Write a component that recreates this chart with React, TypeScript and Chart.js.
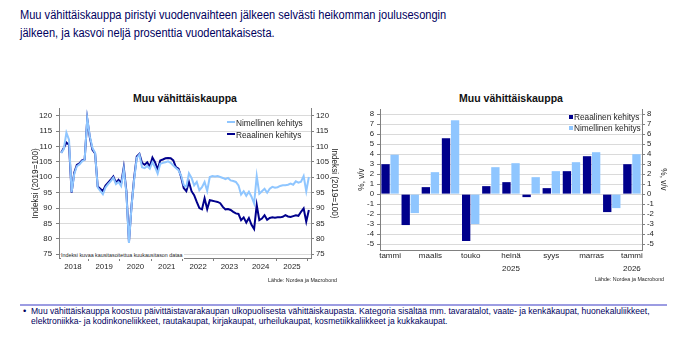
import React, { useEffect, useRef } from "react";
import { Chart, registerables } from "chart.js";

Chart.register(...registerables);

const SANS = "'Liberation Sans', Arial, sans-serif";

const DARK = "#00008C";
const LIGHT = "#8FC6FF";
const NAVY = "#00005E";
const AXIS = "#808080";
const GRID = "#DADADA";
const TEXT = "#1E1E1E";

// ---------- Line chart data (monthly index, 2019=100), Feb 2018 .. Jan 2026 ----------
const lineFirstYear = 2018;
const lineFirstMonth = 2;
const nominalIndex = [
  107.9, 109.2, 114.5, 112.2, 95.2, 101.0, 103.6, 104.2, 105.2, 105.8, 119.1,
  113.3, 109.5, 108.0, 96.7, 95.6, 94.5, 96.7, 97.8, 98.8, 99.9, 97.8, 98.5,
  97.2, 102.6, 95.0, 78.7, 90.8, 99.4, 106.3, 107.4, 103.3, 103.0, 103.7, 102.8,
  104.9, 103.3, 101.2, 104.4, 104.7, 104.9, 105.2, 104.7, 103.8, 103.0, 102.3, 100.6,
  97.5, 96.9, 101.3, 99.8, 97.4, 98.5, 95.8, 96.8, 98.5, 95.6, 100.1, 100.4,
  100.3, 100.4, 100.1, 99.8, 99.4, 99.8, 99.0, 98.8, 98.5, 97.4, 94.4, 95.5,
  94.0, 95.3, 93.7, 91.5, 100.4, 94.7, 95.5, 96.3, 95.0, 96.3, 96.9, 96.6,
  96.8, 97.2, 97.4, 97.4, 97.6, 98.0, 97.6, 98.7, 98.3, 98.6, 100.4, 95.5,
  100.1,
];
const realIndex = [
  108.0, 109.5, 111.3, 110.6, 95.0, 101.5, 104.0, 104.5, 105.5, 105.8, 118.9,
  112.9, 108.9, 107.8, 97.0, 96.3, 95.5, 97.3, 98.3, 99.2, 100.3, 98.3, 99.2,
  98.0, 103.2, 95.5, 79.0, 91.0, 100.0, 106.8, 107.6, 104.7, 104.1, 104.9, 103.5,
  106.4, 104.9, 102.5, 105.5, 105.8, 106.2, 106.3, 106.2, 105.5, 103.3, 102.8, 100.1,
  96.5, 95.5, 98.5, 95.5, 94.2, 92.0, 90.0, 89.6, 93.2, 89.7, 92.6, 92.4,
  92.2, 92.0, 91.6, 90.4, 89.6, 89.7, 89.4, 88.8, 88.3, 88.1, 86.1, 87.0,
  85.3, 86.8, 84.6, 83.2, 91.0, 86.1, 86.6, 87.7, 86.2, 86.8, 87.0, 86.9,
  87.0, 87.0, 87.2, 87.7, 87.3, 87.1, 87.4, 87.7, 87.5, 88.8, 89.9, 85.6,
  89.4,
];
const yearLabels = ["2018", "2019", "2020", "2021", "2022", "2023", "2024", "2025"];
const indexTicks = [75, 80, 85, 90, 95, 100, 105, 110, 115, 120];

// ---------- Bar chart data (% y/y), Jan 2025 .. Jan 2026 ----------
const barMonths = ["tammi", "helmi", "maalis", "huhti", "touko", "kesä", "heinä", "elo", "syys", "loka", "marras", "joulu", "tammi"];
const barYears = ["", "", "", "", "", "", "2025", "", "", "", "", "", "2026"];
const realYoY = [3.0, -3.1, 0.7, 5.6, -4.7, 0.8, 1.2, -0.3, 0.6, 2.3, 3.8, -1.8, 3.0];
const nominalYoY = [3.95, -1.9, 2.2, 7.4, -3.0, 2.7, 3.1, 1.7, 2.3, 3.2, 4.2, -1.4, 4.0];
const pctTicks = [-5, -4, -3, -2, -1, 0, 1, 2, 3, 4, 5, 6, 7, 8];

const monthPos = (i: number) => {
  const m = lineFirstMonth - 1 + i;
  return lineFirstYear + Math.floor(m / 12) + ((m % 12) + 0.5) / 12;
};

const tickFont = { family: SANS, size: 7.8 };
const titleFont = { family: SANS, size: 8.2 };

function LineChart() {
  const ref = useRef<HTMLCanvasElement>(null);
  useEffect(() => {
    const xTicks: { value: number }[] = [];
    yearLabels.forEach((y) => {
      const yr = Number(y);
      if (yr > lineFirstYear) xTicks.push({ value: yr });
      xTicks.push({ value: yr + 0.5 });
    });
    xTicks.push({ value: Number(yearLabels[yearLabels.length - 1]) + 1 });
    const yAxis = (pos: "left" | "right", width: number, pad: number, titlePad: number) => ({
      position: pos,
      min: 73.8,
      max: 122.3,
      afterBuildTicks: (s: any) => { s.ticks = indexTicks.map((v) => ({ value: v })); },
      afterFit: (s: any) => { s.width = width; },
      grid: { display: true, drawOnChartArea: pos === "left", color: GRID, tickColor: AXIS, tickLength: 3 },
      border: { display: true, color: AXIS },
      ticks: { font: tickFont, color: TEXT, padding: pad, autoSkip: false },
      title: { display: true, text: "Indeksi (2019=100)", font: titleFont, color: TEXT, padding: { top: titlePad, bottom: 0 } },
    });
    const chart = new Chart(ref.current!, {
      type: "line",
      data: {
        datasets: [
          { label: "Nimellinen kehitys", data: nominalIndex.map((v, i) => ({ x: monthPos(i), y: v })), borderColor: LIGHT, borderWidth: 2, pointRadius: 0, tension: 0 },
          { label: "Reaalinen kehitys", data: realIndex.map((v, i) => ({ x: monthPos(i), y: v })), borderColor: DARK, borderWidth: 2, pointRadius: 0, tension: 0 },
        ],
      },
      options: {
        animation: false,
        responsive: false,
        layout: { padding: { top: 8, left: 0, right: 0, bottom: 0 } },
        plugins: { legend: { display: false }, tooltip: { enabled: false } },
        scales: {
          x: {
            type: "linear",
            min: 2018.055,
            max: 2026.11,
            afterBuildTicks: (s: any) => { s.ticks = xTicks.map((t) => ({ ...t })); },
            afterFit: (s: any) => { s.height = 27; },
            grid: {
              display: true,
              drawOnChartArea: false,
              tickLength: 3,
              tickColor: (ctx: any) => (ctx.tick && Number.isInteger(ctx.tick.value) ? AXIS : "rgba(0,0,0,0)"),
            },
            border: { display: true, color: AXIS },
            ticks: {
              autoSkip: false,
              maxRotation: 0,
              font: tickFont,
              color: TEXT,
              padding: 1,
              callback: (v: any) => (Number.isInteger(v) ? "" : String(Math.floor(v))),
            },
          },
          y: yAxis("left", 39, 4, 11.1),
          y1: yAxis("right", 34, 2, 6.1),
        },
      } as any,
    });
    return () => chart.destroy();
  }, []);
  return <canvas ref={ref} width={325} height={185} style={{ position: "absolute", left: 20, top: 100, width: 325, height: 185 }} />;
}

function BarChart() {
  const ref = useRef<HTMLCanvasElement>(null);
  useEffect(() => {
    const yAxis = (pos: "left" | "right", width: number, pad: number, titlePad: number) => ({
      position: pos,
      min: -5.6,
      max: 8.53,
      afterBuildTicks: (s: any) => { s.ticks = pctTicks.map((v) => ({ value: v })); },
      afterFit: (s: any) => { s.width = width; },
      grid: { display: true, drawOnChartArea: pos === "left", color: GRID, tickColor: AXIS, tickLength: 3 },
      border: { display: true, color: AXIS },
      ticks: { font: tickFont, color: TEXT, padding: pad, autoSkip: false },
      title: { display: true, text: "%, v/v", font: titleFont, color: TEXT, padding: { top: titlePad, bottom: 0 } },
    });
    const chart = new Chart(ref.current!, {
      type: "bar",
      data: {
        labels: barMonths.map((m, i) => (barYears[i] ? [m, barYears[i]] : m)),
        datasets: [
          { label: "Reaalinen kehitys", data: realYoY, backgroundColor: DARK, categoryPercentage: 0.9, barPercentage: 0.92 },
          { label: "Nimellinen kehitys", data: nominalYoY, backgroundColor: LIGHT, categoryPercentage: 0.9, barPercentage: 0.92 },
        ],
      },
      options: {
        animation: false,
        responsive: false,
        layout: { padding: { top: 9, left: 0, right: 0, bottom: 0 } },
        plugins: { legend: { display: false }, tooltip: { enabled: false } },
        scales: {
          x: {
            afterFit: (s: any) => { s.height = 40; },
            grid: { display: true, drawOnChartArea: false, drawTicks: false, offset: true },
            border: { display: true, color: AXIS },
            ticks: {
              autoSkip: false,
              maxRotation: 0,
              font: { family: SANS, size: 8, lineHeight: 1.55 },
              color: TEXT,
              padding: 0,
              callback: function (this: any, _v: any, i: number) {
                if (i % 2 !== 0) return "";
                return barYears[i] ? [barMonths[i], barYears[i]] : barMonths[i];
              },
            },
          },
          y: yAxis("left", 35, 3, 11.8),
          y1: yAxis("right", 38, 2, 12.1),
        },
      } as any,
    });
    return () => chart.destroy();
  }, []);
  return <canvas ref={ref} width={335} height={190} style={{ position: "absolute", left: 345, top: 100, width: 335, height: 190 }} />;
}

const abs = (s: React.CSSProperties, sx = 0.92): React.CSSProperties => ({
  position: "absolute",
  whiteSpace: "nowrap",
  transform: `scaleX(${sx})`,
  transformOrigin: "0 0",
  ...s,
});

export default function App() {
  return (
    <div style={{ position: "fixed", left: 0, top: 0, width: 690, height: 338, background: "#fff", overflow: "hidden", fontFamily: SANS }}>
      <div style={abs({ left: 20, top: 6, fontSize: 12, lineHeight: "18px", color: NAVY }, 0.922)}>
        Muu vähittäiskauppa piristyi vuodenvaihteen jälkeen selvästi heikomman joulusesongin
        <br />
        jälkeen, ja kasvoi neljä prosenttia vuodentakaisesta.
      </div>

      <div style={abs({ left: 20, top: 91, width: 330, textAlign: "center", fontWeight: "bold", fontSize: 10.5, lineHeight: "14px", color: "#111" }, 1)}>Muu vähittäiskauppa</div>
      <div style={abs({ left: 346, top: 91, width: 330, textAlign: "center", fontWeight: "bold", fontSize: 10.5, lineHeight: "14px", color: "#111" }, 1)}>Muu vähittäiskauppa</div>

      <LineChart />
      <BarChart />

      {/* line chart legend */}
      <div style={abs({ left: 227, top: 121.3, width: 8, height: 2, background: LIGHT }, 1)} />
      <div style={abs({ left: 236, top: 116.5, fontSize: 9, lineHeight: "12px", color: TEXT })}>Nimellinen kehitys</div>
      <div style={abs({ left: 227, top: 133.3, width: 8, height: 2, background: DARK }, 1)} />
      <div style={abs({ left: 236, top: 128.5, fontSize: 9, lineHeight: "12px", color: TEXT })}>Reaalinen kehitys</div>

      {/* line chart note */}
      <div style={abs({ left: 61, top: 251, fontSize: 5.8, lineHeight: "8px", color: TEXT, background: "#fff", paddingRight: 2 })}>Indeksi kuvaa kausitasoitettua kuukausitason dataa</div>

      {/* bar chart legend */}
      <div style={abs({ left: 569, top: 114.7, width: 4, height: 4, background: DARK }, 1)} />
      <div style={abs({ left: 574, top: 110.7, fontSize: 9, lineHeight: "12px", color: TEXT })}>Reaalinen kehitys</div>
      <div style={abs({ left: 569, top: 125.7, width: 4, height: 4, background: LIGHT }, 1)} />
      <div style={abs({ left: 574, top: 121.7, fontSize: 9, lineHeight: "12px", color: TEXT })}>Nimellinen kehitys</div>

      <div style={abs({ left: 268, top: 276, fontSize: 5.8, lineHeight: "8px", color: TEXT })}>Lähde: Nordea ja Macrobond</div>
      <div style={abs({ left: 595, top: 275, fontSize: 5.8, lineHeight: "8px", color: TEXT })}>Lähde: Nordea ja Macrobond</div>

      <div style={abs({ left: 20, top: 304, width: 647, height: 2, background: "#9C9CE2" }, 1)} />
      <div style={abs({ left: 23, top: 305.7, fontSize: 9.3, lineHeight: "10px", color: NAVY }, 1)}>•</div>
      <div style={abs({ left: 31, top: 305.7, fontSize: 9.3, lineHeight: "10px", color: NAVY })}>
        Muu vähittäiskauppa koostuu päivittäistavarakaupan ulkopuolisesta vähittäiskaupasta. Kategoria sisältää mm. tavaratalot, vaate- ja kenkäkaupat, huonekaluliikkeet,
        <br />
        elektroniikka- ja kodinkoneliikkeet, rautakaupat, kirjakaupat, urheilukaupat, kosmetiikkaliikkeet ja kukkakaupat.
      </div>
    </div>
  );
}
